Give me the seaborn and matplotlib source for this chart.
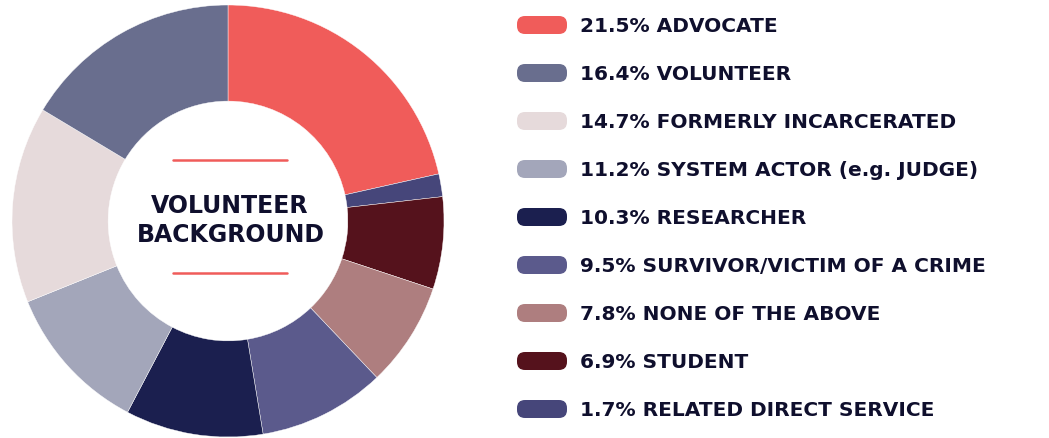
import matplotlib
matplotlib.use("Agg")
import matplotlib.pyplot as plt
import seaborn as sns
from matplotlib.patches import FancyBboxPatch

sns.set_theme(style="white")
plt.rcParams["font.family"] = ["DejaVu Sans"]

# legend order (largest first)
labels = ["ADVOCATE", "VOLUNTEER", "FORMERLY INCARCERATED", "SYSTEM ACTOR (e.g. JUDGE)",
          "RESEARCHER", "SURVIVOR/VICTIM OF A CRIME", "NONE OF THE ABOVE", "STUDENT",
          "RELATED DIRECT SERVICE"]
shares = [21.5, 16.4, 14.7, 11.2, 10.3, 9.5, 7.8, 6.9, 1.7]
colors = ["#F05C5A", "#696E8E", "#E6DADB", "#A3A6BA", "#1B1F4F",
          "#5B5A8C", "#AE7E7F", "#55121C", "#46467A"]
# order of the wedges, clockwise from 12 o'clock
pie_order = ["ADVOCATE", "RELATED DIRECT SERVICE", "STUDENT", "NONE OF THE ABOVE",
             "SURVIVOR/VICTIM OF A CRIME", "RESEARCHER", "SYSTEM ACTOR (e.g. JUDGE)",
             "FORMERLY INCARCERATED", "VOLUNTEER"]

W, H = 1049, 438
fig = plt.figure(figsize=(W / 100, H / 100), dpi=100)

# donut
cx, cy, r = 228, 221, 216
ax = fig.add_axes([(cx - r) / W, (H - cy - r) / H, 2 * r / W, 2 * r / H])
idx = [labels.index(p) for p in pie_order]
ax.pie([shares[i] for i in idx], colors=[colors[i] for i in idx], startangle=90,
       counterclock=False, radius=1,
       wedgeprops=dict(width=0.445, linewidth=0.3, edgecolor="white"))
ax.set_xlim(-1, 1)
ax.set_ylim(-1, 1)
ax.axis("off")

# overlay in pixel units
ov = fig.add_axes([0, 0, 1, 1])
ov.set_xlim(0, W)
ov.set_ylim(H, 0)
ov.axis("off")

title_col = "#0F0F2D"
ov.plot([173, 287], [160, 160], color="#F05C5A", lw=1.8)
ov.plot([173, 287], [273, 273], color="#F05C5A", lw=1.8)
ov.text(cx + 2, 206, "VOLUNTEER", ha="center", va="center", fontsize=17,
        fontweight="bold", color=title_col)
ov.text(cx + 3, 235, "BACKGROUND", ha="center", va="center", fontsize=17,
        fontweight="bold", color=title_col)

# legend
y0, dy = 25, 48
for i, (lab, val, col) in enumerate(zip(labels, shares, colors)):
    y = y0 + i * dy
    ov.add_patch(FancyBboxPatch((525, y - 1), 34, 2, boxstyle="round,pad=8",
                                facecolor=col, edgecolor="none"))
    ov.text(580, y + 1, f"{val}% {lab}", ha="left", va="center", fontsize=14.5,
            fontweight="bold", color=title_col)

fig.savefig("out.png", dpi=100)
